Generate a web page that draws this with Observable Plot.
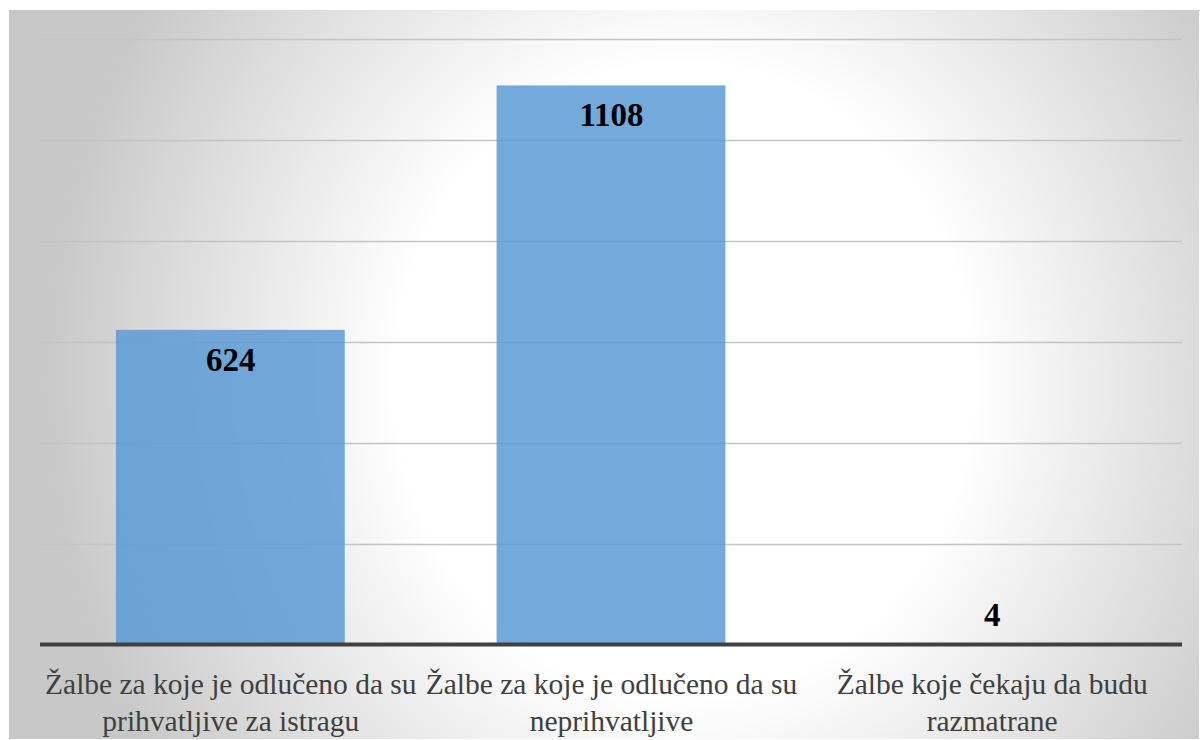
<!DOCTYPE html>
<html>
<head>
<meta charset="utf-8">
<script src="https://cdn.jsdelivr.net/npm/d3@7"></script>
<script src="https://cdn.jsdelivr.net/npm/@observablehq/plot@0.6"></script>
<style>
  html, body { margin: 0; padding: 0; background: #ffffff; width: 1200px; height: 740px; overflow: hidden; }
  #chart { position: absolute; left: 9px; top: 10px; width: 1191px; height: 730px;
           border-top: 1px solid #c2c2c2; border-left: 1px solid #c2c2c2; box-sizing: border-box; }
  #chart svg { position: absolute; left: -1px; top: -1px; }
</style>
</head>
<body>
<div id="chart"></div>
<script>
// Categories (tick labels, with line breaks as in the reference)
const categories = [
  "Žalbe za koje je odlučeno da su\nprihvatljive za istragu",
  "Žalbe za koje je odlučeno da su\nneprihvatljive",
  "Žalbe koje čekaju da budu\nrazmatrane"
];
// Series values
const values = [624, 1108, 4];
// Gridline values (no y tick labels shown)
const gridTicks = [200, 400, 600, 800, 1000, 1200];

const data = categories.map((c, i) => ({category: c, value: values[i]}));
const serif = "Liberation Serif";

const chart = Plot.plot({
  width: 1191,
  height: 730,
  marginLeft: 31,
  marginRight: 17,
  marginTop: 29,
  marginBottom: 94.5,
  style: {
    background: "radial-gradient(ellipse 640px 700px at 675px 370px, #ffffff 0%, #ffffff 45%, #e2e2e2 74%, #c8c8c8 100%)",
    fontFamily: serif,
    overflow: "visible"
  },
  x: {type: "band", domain: categories, paddingInner: 0.4, paddingOuter: 0.2, axis: null},
  y: {domain: [0, 1200], axis: null},
  marks: [
    Plot.ruleY(gridTicks, {stroke: "#c4c4c4", strokeWidth: 1.5}),
    Plot.barY(data, {x: "category", y: "value", fill: "#5b9bd5", fillOpacity: 0.85}),
    Plot.ruleY([0], {stroke: "#404040", strokeWidth: 4, dy: -1}),
    Plot.text(data.filter(d => d.value >= 100), {
      x: "category", y: "value", text: d => String(d.value), dy: 30,
      fontSize: 33, fontWeight: "bold", fill: "#000000", fontFamily: serif, lineAnchor: "middle"
    }),
    Plot.text(data.filter(d => d.value < 100), {
      x: "category", y: "value", text: d => String(d.value), dy: -28,
      fontSize: 33, fontWeight: "bold", fill: "#000000", fontFamily: serif, lineAnchor: "middle"
    }),
    Plot.text(categories, {
      x: d => d, y: () => 0, text: d => d, dy: 22, lineAnchor: "top", lineHeight: 1.26,
      fontSize: 29.5, fill: "#404040", fontFamily: serif
    })
  ]
});
document.getElementById("chart").appendChild(chart);
</script>
</body>
</html>
